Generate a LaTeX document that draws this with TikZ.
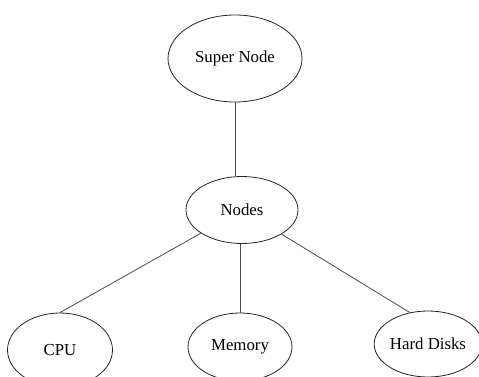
\documentclass[tikz,border=0pt]{standalone}
\usepackage{fontspec}
\setmainfont{Liberation Serif}
\usepackage{tikz}
\usetikzlibrary{positioning,shapes.geometric}

\begin{document}
\begin{tikzpicture}[
    x=1pt, y=-1pt,
    font=\fontsize{16.8}{20}\selectfont,
    ell/.style={ellipse, draw=black!85, line width=0.8pt, inner sep=0pt, align=center},
    link/.style={draw=black!70, line width=0.8pt},
  ]
    \clip (0,0) rectangle (479,377);

    % ---------- nodes ----------
    \node[ell, minimum width=134pt, minimum height=87pt] (super) at (235,58.5) {Super Node};
    \node[ell, minimum width=112pt, minimum height=67pt] (nodes) at (242,210)  {Nodes};
    \node[ell, minimum width=105pt, minimum height=74pt] (cpu)   at (60,350)   {CPU};
    \node[ell, minimum width=104pt, minimum height=68pt] (mem)   at (240,347)  {Memory};
    \node[ell, minimum width=99pt,  minimum height=66pt] (hd)    at (428,344)  {Hard Disks};

    % ---------- links ----------
    \draw[link] (super.south) -- (super.south |- nodes.north);
    \draw[link] (mem.north |- nodes.south) -- (mem.north);
    \foreach \b in {cpu.north, hd.120} \draw[link] (nodes) -- (\b);
  \end{tikzpicture}
\end{document}
